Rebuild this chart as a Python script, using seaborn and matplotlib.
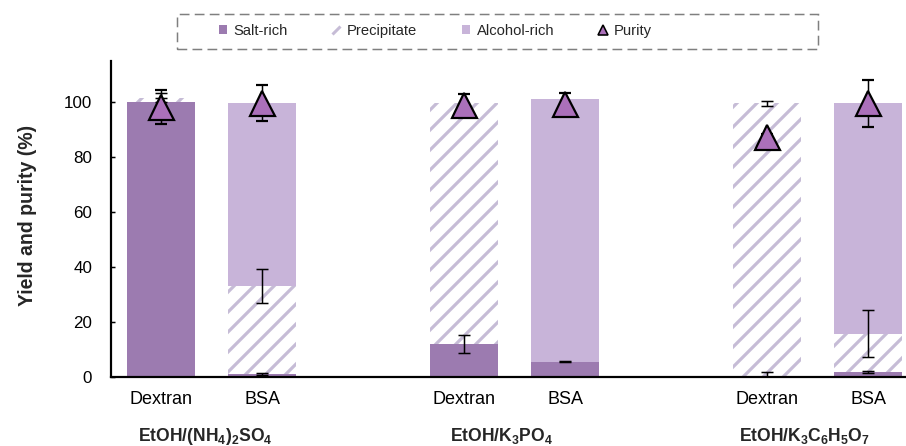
import numpy as np
import pandas as pd
import matplotlib
matplotlib.use("Agg")
import matplotlib.pyplot as plt
from matplotlib.patches import Patch, Rectangle
from matplotlib.lines import Line2D
import seaborn as sns

# ---------------- data ----------------
systems = [r"EtOH/(NH$_\mathbf{4}$)$_\mathbf{2}$SO$_\mathbf{4}$",
           r"EtOH/K$_\mathbf{3}$PO$_\mathbf{4}$",
           r"EtOH/K$_\mathbf{3}$C$_\mathbf{6}$H$_\mathbf{5}$O$_\mathbf{7}$"]
molecules = ["Dextran", "BSA"]
salt_rich = [100.0, 1.1, 12.0, 5.6, 0.5, 1.8]
salt_err = [1.6, 0.4, 3.3, 0.3, 1.2, 0.4]
precipitate = [1.6, 32.1, 87.6, 0.0, 99.2, 14.0]
precip_err = [1.6, 6.1, 0.0, 0.0, 0.9, 8.6]
alcohol_rich = [0.0, 66.5, 0.0, 95.6, 0.0, 84.0]
purity = [98.2, 99.7, 99.1, 99.4, 87.4, 99.6]
purity_err = [6.2, 6.5, 3.8, 4.0, 1.0, 8.6]

# ---------------- style ----------------
DPI = 60
PT = 72.0 / DPI  # points per pixel
sns.set_style("ticks")
plt.rcParams["font.family"] = ["Liberation Sans", "DejaVu Sans"]
plt.rcParams["mathtext.fontset"] = "custom"
plt.rcParams["mathtext.rm"] = "Liberation Sans"
plt.rcParams["mathtext.bf"] = "Liberation Sans:bold"
plt.rcParams["hatch.linewidth"] = 3.2 * PT

c_salt = "#9c7bb0"
c_alc = "#c8b4d9"
c_hatch = "#c6bcd6"
c_tri = "#ab70ba"

# ---------------- frame ----------------
fig = plt.figure(figsize=(906 / DPI, 446 / DPI), dpi=DPI)
ax = fig.add_axes([111 / 906, 1 - 377 / 446, 1 - 111 / 906, (377 - 61) / 446])

n = len(salt_rich)
pos = np.array([(i // 2) * 3 + (i % 2) for i in range(n)], dtype=float)
salt = np.array(salt_rich)
prec_top = salt + np.array(precipitate)
total = prec_top + np.array(alcohol_rich)

df = pd.DataFrame({"pos": pos, "salt": salt, "prec_top": prec_top, "total": total})

common = dict(x="pos", native_scale=True, width=0.67, saturation=1,
              errorbar=None, ax=ax, linewidth=0)
sns.barplot(data=df, y="total", color=c_alc, **common)
sns.barplot(data=df, y="prec_top", color="white", hatch="/", edgecolor=c_hatch, **common)
sns.barplot(data=df, y="salt", color=c_salt, **common)

ekw = dict(fmt="none", ecolor="black", elinewidth=1.5 * PT, capsize=6 * PT,
           capthick=1.5 * PT, zorder=4)
m = np.array(salt_err) > 0
ax.errorbar(pos[m], salt[m], yerr=np.array(salt_err)[m], **ekw)
m = np.array(precip_err) > 0
ax.errorbar(pos[m], prec_top[m], yerr=np.array(precip_err)[m], **ekw)

ax.errorbar(pos, purity, yerr=purity_err, fmt="^", ms=25 * PT, mfc=c_tri,
            mec="black", mew=2.2 * PT, ecolor="black", elinewidth=1.5 * PT,
            capsize=6 * PT, capthick=1.5 * PT, zorder=5)

# ---------------- axes ----------------
ax.set_xlim(-0.495, 7.376)
ax.set_ylim(0, 115)
ax.set_yticks(np.arange(0, 101, 20))
ax.set_xticks(pos, labels=molecules * len(systems))
ax.tick_params(axis="y", direction="in", length=4 * PT, width=1.5 * PT,
               labelsize=17 * PT, pad=19 * PT, colors="black")
ax.tick_params(axis="x", length=0, labelsize=18 * PT, pad=14 * PT, colors="black")
for s in ["top", "right"]:
    ax.spines[s].set_visible(False)
for s in ["left", "bottom"]:
    ax.spines[s].set_linewidth(2.2 * PT)
    ax.spines[s].set_color("black")
ax.set_xlabel("")
ax.set_ylabel("Yield and purity (%)", fontsize=19.5 * PT, fontweight="bold")
ax.yaxis.set_label_coords(-0.093, 0.51)

label_x = [0.436, 3.366, 6.376]
for xg, s in zip(label_x, systems):
    ax.text(xg, -0.187, s, transform=ax.get_xaxis_transform(), ha="center",
            va="center", fontsize=17.5 * PT, fontweight="bold")

# ---------------- legend ----------------
handles = [
    Patch(facecolor=c_salt, edgecolor="none", label="Salt-rich"),
    Line2D([], [], ls="none", marker=[(-1, -1), (1, 1)], ms=8 * PT,
           mec=c_hatch, mew=3 * PT, label="Precipitate"),
    Patch(facecolor=c_alc, edgecolor="none", label="Alcohol-rich"),
    Line2D([], [], ls="none", marker="^", ms=10 * PT, mfc=c_tri, mec="black",
           mew=1.6 * PT, label="Purity"),
]
fig.legend(handles=handles, loc="center", bbox_to_anchor=(435 / 906, 1 - 31 / 446),
           ncol=4, frameon=False, fontsize=14.8 * PT, handlelength=0.55,
           handleheight=0.55, handletextpad=0.45, columnspacing=3.0,
           borderpad=0.2)
fig.patches.append(Rectangle((177 / 906, 1 - 49 / 446), (818 - 177) / 906, 35 / 446,
                             transform=fig.transFigure, fill=False,
                             edgecolor="#7f7f7f", linewidth=1.5 * PT,
                             linestyle=(0, (6.5, 3.5))))

fig.savefig("out.png", dpi=DPI)
